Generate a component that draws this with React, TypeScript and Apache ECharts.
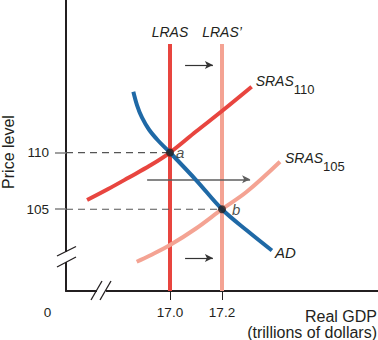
import React, { useEffect, useRef } from "react";
import * as echarts from "echarts";

// Axis ranges (real GDP in trillions, price level)
const xMin = 16.6;
const xMax = 17.8;
const yMin = 97.79;
const yMax = 123.45;

const xTickValues = [17.0, 17.2];
const yTickValues = [105, 110];

const lrasX = 17.0;
const lrasNewX = 17.2;
const lrasTop = 119.57;

const adCurve = [
  [16.859, 115.36],
  [16.873, 114.19],
  [16.892, 113.09],
  [16.919, 112.03],
  [16.954, 111.06],
  [17.0, 110],
  [17.102, 107.53],
  [17.2, 105],
  [17.296, 103.12],
  [17.392, 101.36],
];

const sras110Curve = [
  [16.681, 105.81],
  [16.762, 106.78],
  [16.842, 107.8],
  [16.923, 108.85],
  [17.0, 110],
  [17.1, 111.85],
  [17.2, 113.66],
  [17.314, 115.8],
];

const sras105Curve = [
  [16.872, 100.37],
  [16.923, 100.92],
  [17.0, 101.84],
  [17.1, 103.3],
  [17.2, 105],
  [17.295, 106.54],
  [17.423, 109.19],
];

const equilibria = [
  { name: "a", x: 17.0, y: 110 },
  { name: "b", x: 17.2, y: 105 },
];

// arrows: [xStart, xEnd, y]
const arrows = [
  [17.058, 17.165, 117.72],
  [16.912, 17.308, 107.64],
  [17.058, 17.165, 100.7],
];

const RED = "#e8453f";
const SALMON = "#f4a393";
const BLUE = "#1f69a6";
const INK = "#231f20";
const FONT = "Liberation Sans, Arial, sans-serif";

function withEndLabel(points: number[][], label: any) {
  return points.map((p, i) =>
    i === points.length - 1 ? { value: p, label: { show: true, ...label } } : { value: p }
  );
}

const subRich = {
  n: { fontSize: 14, fontStyle: "italic", fontFamily: FONT, color: INK, lineHeight: 16, verticalAlign: "top" },
  s: { fontSize: 13, fontFamily: FONT, color: INK, lineHeight: 22, verticalAlign: "bottom" },
};

export default function App() {
  const ref = useRef<HTMLDivElement>(null);
  useEffect(() => {
    if (!ref.current) return;
    const chart = echarts.init(ref.current, null, { renderer: "svg" });
    const lineBase = {
      type: "line",
      showSymbol: true,
      symbol: "circle",
      symbolSize: 0,
      silent: true,
      label: { show: false },
    };
    chart.setOption({
      animation: false,
      grid: { left: 66, right: 0, top: 0, bottom: 49 },
      xAxis: {
        type: "value",
        min: xMin,
        max: xMax,
        splitLine: { show: false },
        axisLine: { show: true, onZero: false, lineStyle: { color: INK, width: 2 } },
        axisTick: { show: true, customValues: xTickValues, length: 9, lineStyle: { color: INK, width: 1 } },
        axisLabel: {
          customValues: xTickValues,
          margin: 14,
          fontSize: 13.5,
          fontFamily: FONT,
          color: INK,
          formatter: (v: number) => v.toFixed(1),
        },
      },
      yAxis: {
        type: "value",
        min: yMin,
        max: yMax,
        splitLine: { show: false },
        axisLine: { show: true, onZero: false, lineStyle: { color: INK, width: 2 } },
        axisTick: { show: true, customValues: yTickValues, length: 11, lineStyle: { color: "#808080", width: 1.5 } },
        axisLabel: {
          customValues: yTickValues,
          margin: 17,
          fontSize: 13.5,
          fontFamily: FONT,
          color: INK,
        },
      },
      series: [
        {
          ...lineBase,
          data: withEndLabel([[lrasNewX, yMin], [lrasNewX, lrasTop]], {
            position: "top",
            distance: 5,
            formatter: "LRAS\u2019",
            fontSize: 14,
            fontStyle: "italic",
            fontFamily: FONT,
            color: INK,
          }),
          lineStyle: { color: SALMON, width: 4 },
          itemStyle: { color: SALMON },
          z: 2,
        },
        {
          ...lineBase,
          data: withEndLabel([[lrasX, yMin], [lrasX, lrasTop]], {
            position: "top",
            distance: 5,
            formatter: "LRAS",
            fontSize: 14,
            fontStyle: "italic",
            fontFamily: FONT,
            color: INK,
          }),
          lineStyle: { color: RED, width: 4 },
          itemStyle: { color: RED },
          z: 3,
        },
        {
          ...lineBase,
          smooth: 0.35,
          data: withEndLabel(sras105Curve, {
            position: "right",
            distance: 5,
            offset: [0, 0],
            formatter: "{n|SRAS}{s|105}",
            rich: subRich,
          }),
          lineStyle: { color: SALMON, width: 4 },
          itemStyle: { color: SALMON },
          z: 4,
        },
        {
          ...lineBase,
          smooth: 0.35,
          data: withEndLabel(sras110Curve, {
            position: "right",
            distance: 4,
            offset: [0, -2],
            formatter: "{n|SRAS}{s|110}",
            rich: subRich,
          }),
          lineStyle: { color: RED, width: 4 },
          itemStyle: { color: RED },
          z: 5,
        },
        {
          ...lineBase,
          smooth: 0.35,
          data: withEndLabel(adCurve, {
            position: "right",
            distance: 3,
            offset: [0, 2],
            formatter: "AD",
            fontSize: 15,
            fontStyle: "italic",
            fontFamily: FONT,
            color: INK,
          }),
          lineStyle: { color: BLUE, width: 4 },
          itemStyle: { color: BLUE },
          z: 6,
        },
        ...equilibria.map((p) => ({
          type: "line",
          symbol: "none",
          silent: true,
          data: [[xMin, p.y], [p.x, p.y]],
          lineStyle: { color: "#555555", width: 1.2, type: [7, 5] },
          z: 7,
        })),
        {
          type: "scatter",
          silent: true,
          symbolSize: 8,
          itemStyle: { color: INK },
          data: equilibria.map((p, i) => ({
            value: [p.x, p.y],
            name: p.name,
            label: { distance: i === 0 ? 2 : 6 },
          })),
          label: {
            show: true,
            position: "right",
            distance: 5,
            formatter: (d: any) => d.name,
            fontSize: 15,
            fontStyle: "italic",
            fontFamily: FONT,
            color: INK,
          },
          z: 8,
          markLine: {
            silent: true,
            symbol: ["none", "arrow"],
            symbolSize: [6, 8],
            label: { show: false },
            lineStyle: { type: "solid", width: 1.2, color: "#333333" },
            data: arrows.map((a, i) => [
              {
                coord: [a[0], a[2]],
                lineStyle: { color: i === 1 ? "#5e5e5e" : "#333333", type: "solid", width: i === 1 ? 1.5 : 1.2 },
              },
              { coord: [a[1], a[2]] },
            ]),
          },
        },
      ],
      graphic: [
        // axis break on y axis
        { type: "rect", z: 100, shape: { x: 63, y: 252, width: 7, height: 10 }, style: { fill: "#ffffff" } },
        { type: "line", z: 101, shape: { x1: 57, y1: 256, x2: 76, y2: 246.5 }, style: { stroke: INK, lineWidth: 1.3 } },
        { type: "line", z: 101, shape: { x1: 57, y1: 267, x2: 76, y2: 257 }, style: { stroke: INK, lineWidth: 1.3 } },
        // axis break on x axis
        { type: "rect", z: 100, shape: { x: 97, y: 288, width: 9, height: 6 }, style: { fill: "#ffffff" } },
        { type: "line", z: 101, shape: { x1: 91, y1: 300, x2: 102, y2: 281 }, style: { stroke: INK, lineWidth: 1.3 } },
        { type: "line", z: 101, shape: { x1: 100, y1: 300, x2: 111, y2: 281 }, style: { stroke: INK, lineWidth: 1.3 } },
        {
          type: "text",
          z: 101,
          x: 47.5,
          y: 312,
          style: { text: "0", align: "center", verticalAlign: "middle", font: `13.5px ${FONT}`, fill: INK },
        },
        {
          type: "text",
          z: 101,
          x: 8,
          y: 152,
          rotation: Math.PI / 2,
          style: { text: "Price level", align: "center", verticalAlign: "middle", font: `16px ${FONT}`, fill: INK },
        },
        {
          type: "text",
          z: 101,
          x: 377,
          y: 308,
          style: {
            text: "Real GDP\n(trillions of dollars)",
            align: "right",
            verticalAlign: "top",
            lineHeight: 16.5,
            font: `16px ${FONT}`,
            fill: INK,
          },
        },
      ],
    });
    return () => chart.dispose();
  }, []);
  return (
    <div
      ref={ref}
      style={{ position: "fixed", left: 0, top: 0, width: 378, height: 340, background: "#fff" }}
    />
  );
}
